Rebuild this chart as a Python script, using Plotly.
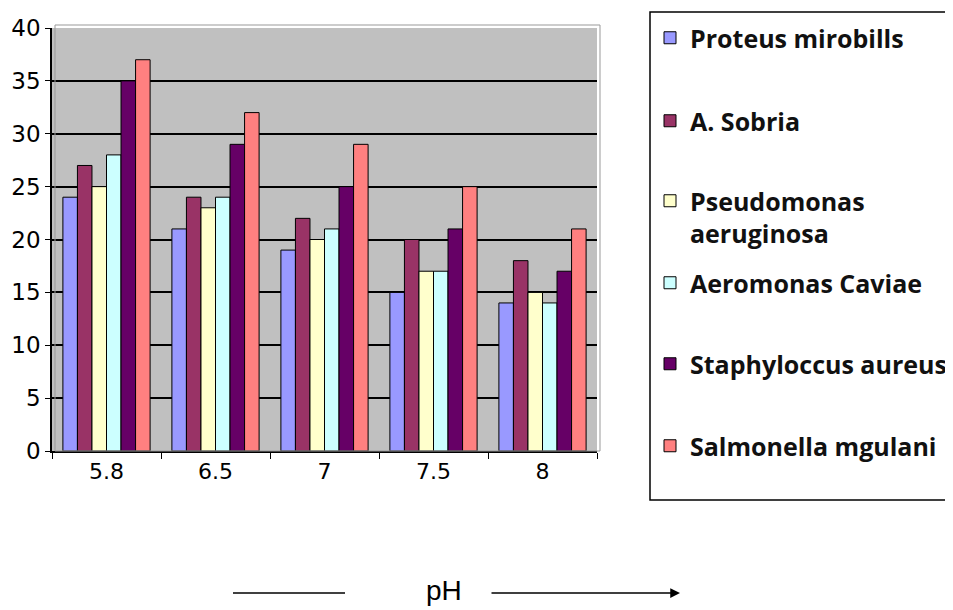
import plotly.graph_objects as go

categories = ["5.8", "6.5", "7", "7.5", "8"]
series_names = ["Proteus mirobills", "A. Sobria", "Pseudomonas<br>aeruginosa",
                "Aeromonas Caviae", "Staphyloccus aureus", "Salmonella mgulani"]
proteus = [24, 21, 19, 15, 14]
sobria = [27, 24, 22, 20, 18]
pseudomonas = [25, 23, 20, 17, 15]
aeromonas = [28, 24, 21, 17, 14]
staphylo = [35, 29, 25, 21, 17]
salmonella = [37, 32, 29, 25, 21]
colors = ["#9999FF", "#993366", "#FFFFCC", "#CCFFFF", "#660066", "#FF8080"]
y_ticks = [0, 5, 10, 15, 20, 25, 30, 35, 40]

# layout geometry: targets are screen pixels; the page body adds an 8px offset
OFF = 8
W, H = 953, 602
ML = 52 - OFF          # y axis at screen x=52
MT = 12 - OFF          # legend box top at screen y=12
BOTTOM = 451 - OFF     # x axis at screen y=451
MB = H - BOTTOM
PW = W - ML
PH = H - MT - MB


def px_x(p):
    return (p - OFF - ML) / PW


def px_y(p):
    return (H - MB - (p - OFF)) / PH


legend_tops = [15, 98, 178, 260, 341, 423]
legend_ids = ["legend", "legend2", "legend3", "legend4", "legend5", "legend6"]

fig = go.Figure()
for name, vals, col, lid in zip(series_names,
                                [proteus, sobria, pseudomonas, aeromonas, staphylo, salmonella],
                                colors, legend_ids):
    fig.add_trace(go.Bar(x=categories, y=vals, name=name, legend=lid,
                         marker=dict(color=col, line=dict(color="black", width=1))))

legend_font = dict(family="Open Sans", size=25, weight="bold", color="#111111")
legends = {}
for lid, top in zip(legend_ids, legend_tops):
    legends[lid] = dict(x=px_x(650), y=px_y(top), xanchor="left", yanchor="top",
                        borderwidth=0, bgcolor="rgba(0,0,0,0)", font=legend_font,
                        itemwidth=30, valign="top")

fig.update_layout(
    width=W, height=H,
    margin=dict(l=ML, r=0, t=MT, b=MB, autoexpand=False),
    paper_bgcolor="white", plot_bgcolor="#C0C0C0",
    barmode="group", bargap=0.2, bargroupgap=0,
    font=dict(family="DejaVu Sans", color="black"),
    showlegend=True,
    **legends,
    xaxis=dict(domain=[0, px_x(597)], showline=True, linecolor="black", linewidth=1.5,
               ticks="outside", tickson="boundaries", ticklen=6, tickcolor="black",
               tickfont=dict(size=22, family="DejaVu Sans"), automargin=False),
    yaxis=dict(domain=[0, px_y(28)], range=[0, 40], tickvals=y_ticks, showline=True,
               linecolor="black", linewidth=1.5, ticks="outside", ticklen=5,
               tickcolor="black", showgrid=True, gridcolor="black", gridwidth=1.5,
               tickfont=dict(size=23, family="DejaVu Sans"), zeroline=False,
               automargin=False),
    annotations=[
        dict(text="pH", xref="paper", yref="paper", x=px_x(444), y=px_y(590),
             xanchor="center", yanchor="middle",
             showarrow=False, font=dict(family="Liberation Sans", size=28)),
        dict(x=px_x(680), y=px_y(593), ax=-190, ay=0, xref="paper", yref="paper",
             axref="pixel", ayref="pixel", text="", showarrow=True, arrowhead=2,
             arrowsize=1.3, arrowwidth=1.5, arrowcolor="black"),
    ],
    shapes=[
        dict(type="line", xref="paper", yref="paper", x0=px_x(233), x1=px_x(345),
             y0=px_y(593), y1=px_y(593), line=dict(color="black", width=1.5)),
        dict(type="rect", xref="paper", yref="paper", x0=px_x(55), x1=px_x(600),
             y0=px_y(451), y1=px_y(25), line=dict(color="#999999", width=1)),
        dict(type="rect", xref="paper", yref="paper", x0=px_x(650), x1=px_x(970),
             y0=px_y(500), y1=px_y(12), line=dict(color="black", width=1.5)),
    ],
)
fig.write_html("out.html")
